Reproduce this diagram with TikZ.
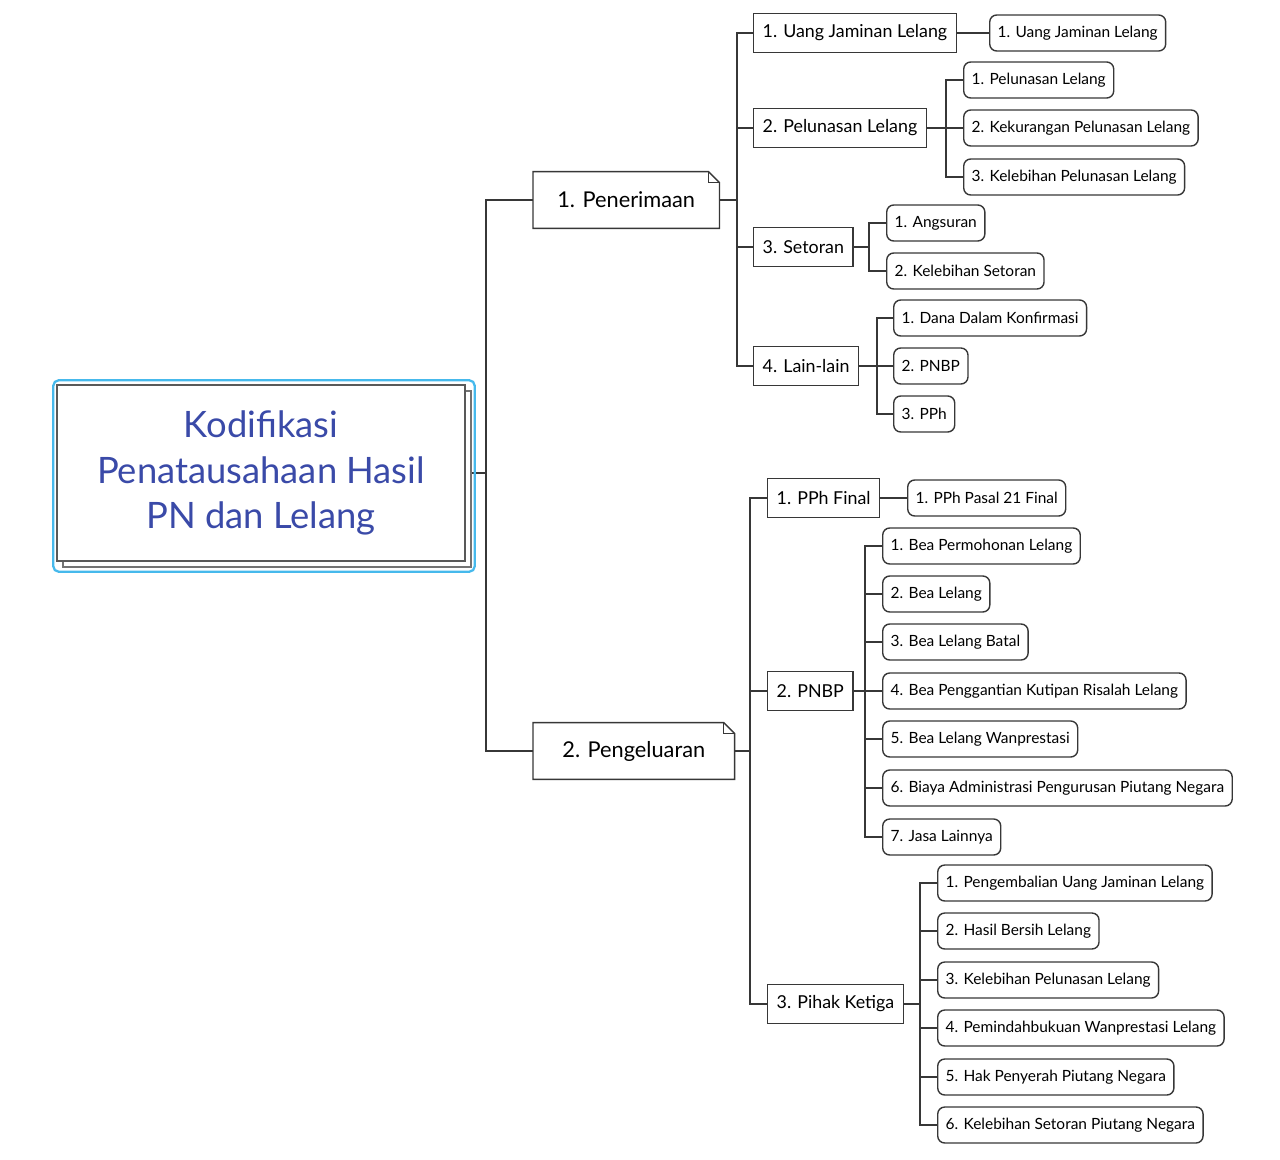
\documentclass[tikz,border=0pt]{standalone}
\usepackage{fontspec}
\setmainfont{Lato}
\usetikzlibrary{positioning,shadows,backgrounds}
\definecolor{rootblue}{RGB}{58,74,168}
\definecolor{selcyan}{RGB}{70,185,236}
\definecolor{linegray}{RGB}{55,55,55}
\tikzset{
  rootbox/.style={rectangle, draw=black!65, line width=0.8pt, fill=white, align=center,
                  text=rootblue, minimum width=8.16cm, minimum height=3.52cm,
                  font=\fontsize{20.7}{25.8}\selectfont,
                  copy shadow={shadow xshift=0.12cm, shadow yshift=-0.12cm, draw=black!55, fill=white}},
  link/.style={draw=linegray, line width=0.7pt},
}
% folded corner for the main topics
\newcommand{\dogear}[1]{%
  \draw[linegray, line width=0.8pt] (#1.south west) -- (#1.north west) -- ([xshift=-0.22cm]#1.north east)
    -- ([yshift=-0.22cm]#1.north east) -- (#1.south east) -- cycle;
  \draw[linegray, line width=0.8pt] ([xshift=-0.22cm]#1.north east) |- ([yshift=-0.22cm]#1.north east);
}

\begin{document}
\begin{tikzpicture}[x=0.02cm, y=-0.02cm]
  % Styles
  \tikzset{
    topic/.style={anchor=west, inner xsep=0.48cm, minimum height=1.12cm, fill=white,
      font=\fontsize{12.4}{15}\selectfont},
    sub/.style={rectangle, draw=linegray, line width=0.8pt, anchor=west, fill=white,
      inner xsep=0.18cm, minimum height=0.78cm, font=\fontsize{10.15}{12}\selectfont},
    leaf/.style={rectangle, draw=linegray, line width=0.8pt, rounded corners=4pt, anchor=west,
      fill=white, inner xsep=0.16cm, minimum height=0.72cm, font=\fontsize{8.8}{10}\selectfont}
  }
  \useasboundingbox (0,0) rectangle (1280,1159);

  % ----- Root -----
  \node[rootbox] (root) at (261,473) {Kodifikasi\\Penatausahaan Hasil\\PN dan Lelang};
  \draw[selcyan, line width=1.3pt, rounded corners=3pt]
    ([shift={(-0.06cm,0.08cm)}]root.north west) rectangle ([shift={(0.18cm,-0.2cm)}]root.south east);

  % ----- Main topics -----
  \node[topic] (t1) at (533,200) {1. Penerimaan};
  \node[topic, minimum width=4.02cm] (t2) at (533,751) {2. Pengeluaran};
  \dogear{t1}
  \dogear{t2}

  % ----- Penerimaan -----
  \node[sub] (a1) at (753,33) {1. Uang Jaminan Lelang};
  \node[sub] (a2) at (753,128) {2. Pelunasan Lelang};
  \node[sub] (a3) at (753,247) {3. Setoran};
  \node[sub] (a4) at (753,366) {4. Lain-lain};

  \node[leaf] (a1x1) at (989,33) {1. Uang Jaminan Lelang};
  \node[leaf] (a2x1) at (963,80) {1. Pelunasan Lelang};
  \node[leaf] (a2x2) at (963,128) {2. Kekurangan Pelunasan Lelang};
  \node[leaf] (a2x3) at (963,177) {3. Kelebihan Pelunasan Lelang};
  \node[leaf] (a3x1) at (886,223) {1. Angsuran};
  \node[leaf] (a3x2) at (886,271) {2. Kelebihan Setoran};
  \node[leaf] (a4x1) at (893,318) {1. Dana Dalam Konfirmasi};
  \node[leaf] (a4x2) at (893,366) {2. PNBP};
  \node[leaf] (a4x3) at (893,414) {3. PPh};

  % ----- Pengeluaran -----
  \node[sub] (b1) at (767,498) {1. PPh Final};
  \node[sub] (b2) at (767,691) {2. PNBP};
  \node[sub] (b3) at (767,1004) {3. Pihak Ketiga};

  \node[leaf] (b1x1) at (907,498) {1. PPh Pasal 21 Final};
  \foreach \y/\t [count=\i] in {546/1. Bea Permohonan Lelang, 594/2. Bea Lelang, 642/3. Bea Lelang Batal,
      691/4. Bea Penggantian Kutipan Risalah Lelang, 739/5. Bea Lelang Wanprestasi,
      788/6. Biaya Administrasi Pengurusan Piutang Negara, 837/7. Jasa Lainnya}
    \node[leaf] (b2x\i) at (882,\y) {\t};
  \foreach \y/\t [count=\i] in {883/1. Pengembalian Uang Jaminan Lelang, 931/2. Hasil Bersih Lelang,
      980/3. Kelebihan Pelunasan Lelang, 1028/4. Pemindahbukuan Wanprestasi Lelang,
      1077/5. Hak Penyerah Piutang Negara, 1125/6. Kelebihan Setoran Piutang Negara}
    \node[leaf] (b3x\i) at (937,\y) {\t};

  % ----- Links -----
  \begin{scope}[on background layer]
    \foreach \c in {t1,t2}
      \draw[link] (root.east) -| ([xshift=-0.94cm]\c.west) -- (\c.west);
    \foreach \c in {a1,a2,a3,a4}
      \draw[link] (t1.east) -| ([xshift=-0.32cm]\c.west) -- (\c.west);
    \foreach \c in {b1,b2,b3}
      \draw[link] (t2.east) -| ([xshift=-0.34cm]\c.west) -- (\c.west);
    \draw[link] (a1.east) -- (a1x1.west);
    \draw[link] (b1.east) -- (b1x1.west);
    \foreach \c in {a2x1,a2x2,a2x3}
      \draw[link] (a2.east) -| ([xshift=-0.34cm]\c.west) -- (\c.west);
    \foreach \c in {a3x1,a3x2}
      \draw[link] (a3.east) -| ([xshift=-0.34cm]\c.west) -- (\c.west);
    \foreach \c in {a4x1,a4x2,a4x3}
      \draw[link] (a4.east) -| ([xshift=-0.32cm]\c.west) -- (\c.west);
    \foreach \i in {1,...,7}
      \draw[link] (b2.east) -| ([xshift=-0.34cm]b2x\i.west) -- (b2x\i.west);
    \foreach \i in {1,...,6}
      \draw[link] (b3.east) -| ([xshift=-0.34cm]b3x\i.west) -- (b3x\i.west);
  \end{scope}
\end{tikzpicture}
\end{document}
